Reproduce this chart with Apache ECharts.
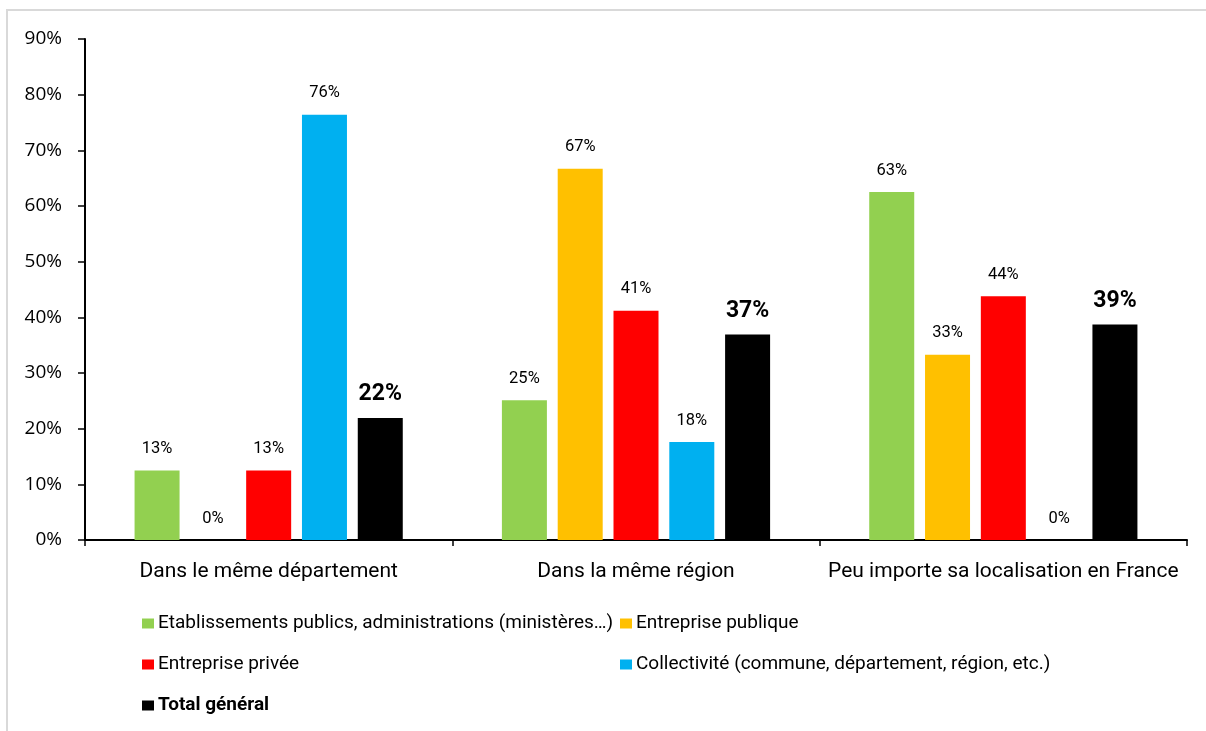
<!DOCTYPE html>
<html>
<head>
<meta charset="utf-8">
<script src="https://cdn.jsdelivr.net/npm/echarts@6/dist/echarts.min.js"></script>
<style>
html,body{margin:0;padding:0;background:#fff;}
#chart{width:1206px;height:731px;}
</style>
</head>
<body>
<div id="chart"></div>
<script>
const categories = ['Dans le même département', 'Dans la même région', 'Peu importe sa localisation en France'];
const seriesNames = ['Etablissements publics, administrations (ministères…)', 'Entreprise publique', 'Entreprise privée', 'Collectivité (commune, département, région, etc.)', 'Total général'];
const etablissements = [12.5, 25.1, 62.5];
const entreprisePublique = [0, 66.7, 33.3];
const entreprisePrivee = [12.5, 41.2, 43.8];
const collectivite = [76.4, 17.6, 0];
const totalGeneral = [21.9, 36.9, 38.7];
const yTicks = [0, 10, 20, 30, 40, 50, 60, 70, 80, 90];

const colors = ['#92D050', '#FFC000', '#FF0000', '#00B0F0', '#000000'];
const values = [etablissements, entreprisePublique, entreprisePrivee, collectivite, totalGeneral];
const FONT = 'Roboto';

const chart = echarts.init(document.getElementById('chart'));

const series = values.map((v, i) => ({
  name: seriesNames[i],
  type: 'bar',
  data: v,
  barWidth: 45,
  barGap: '24%',
  itemStyle: { color: colors[i] },
  label: {
    show: true,
    position: 'top',
    distance: i === 4 ? 12 : 13,
    color: '#000',
    fontFamily: FONT,
    fontSize: i === 4 ? 23 : 16.5,
    fontWeight: i === 4 ? 'bold' : 'normal',
    formatter: p => Math.round(p.value) + '%'
  }
}));

const legendBase = {
  orient: 'horizontal',
  padding: 0,
  itemWidth: 12,
  itemHeight: 10,
  icon: 'rect',
  selectedMode: false,
  textStyle: { fontFamily: FONT, fontSize: 19, color: '#000', padding: [0, 0, 0, -1] }
};

chart.setOption({
  animation: false,
  color: colors,
  graphic: [{
    type: 'rect',
    z: -10,
    shape: { x: 7, y: 10, width: 1400, height: 900 },
    style: { fill: 'none', stroke: '#d9d9d9', lineWidth: 2 }
  }],
  grid: { left: 85, right: 19, top: 39, bottom: 191, containLabel: false },
  legend: [
    Object.assign({}, legendBase, { data: [seriesNames[0]], left: 142, top: 614 }),
    Object.assign({}, legendBase, { data: [seriesNames[1]], left: 620, top: 614 }),
    Object.assign({}, legendBase, { data: [seriesNames[2]], left: 142, top: 655 }),
    Object.assign({}, legendBase, { data: [seriesNames[3]], left: 620, top: 655 }),
    Object.assign({}, legendBase, { data: [seriesNames[4]], left: 142, top: 696,
      textStyle: Object.assign({}, legendBase.textStyle, { fontWeight: 'bold' }) })
  ],
  xAxis: {
    type: 'category',
    data: categories,
    axisLine: { show: true, lineStyle: { color: '#000', width: 2 } },
    axisTick: { show: true, length: 6, lineStyle: { color: '#000', width: 1.5 } },
    axisLabel: { color: '#000', fontFamily: FONT, fontSize: 21, margin: 21, interval: 0 },
    splitLine: { show: false }
  },
  yAxis: {
    type: 'value',
    min: yTicks[0],
    max: yTicks[yTicks.length - 1],
    interval: 10,
    axisLine: { show: true, lineStyle: { color: '#000', width: 2 } },
    axisTick: { show: true, length: 7, lineStyle: { color: '#000', width: 1.5 } },
    axisLabel: { color: '#000', fontFamily: 'Open Sans', fontSize: 19, margin: 23, formatter: '{value}%' },
    splitLine: { show: false }
  },
  series: series
});
</script>
</body>
</html>
